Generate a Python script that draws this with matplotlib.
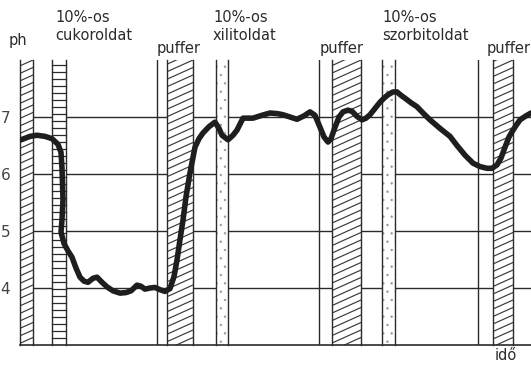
"""pH of the mouth over time while rinsing with 10% sugar / xylitol / sorbitol solutions."""

import numpy as np
import matplotlib
matplotlib.use('Agg')
import matplotlib.pyplot as plt
from matplotlib.patches import Rectangle

# time axis (arbitrary units, left edge of the chart = 20)
time = [21, 30, 37, 45, 52, 58, 61, 62, 63, 62, 61, 64, 68, 72, 76, 80, 84, 88,
        93, 97, 102, 107, 113, 120, 126, 131, 137, 141, 145, 150, 155, 160, 165,
        170, 174, 177, 180, 183, 186, 190, 195, 199, 203, 209, 215, 219, 222,
        228, 233, 237, 243, 248, 253, 262, 270, 277, 283, 290, 297, 304, 310,
        315, 320, 324, 328, 331, 335, 339, 343, 348, 352, 357, 362, 366, 370,
        375, 380, 384, 388, 393, 397, 401, 405, 411, 417, 423, 430, 440, 450,
        457, 465, 473, 480, 487, 492, 497, 501, 505, 509, 512, 516, 520, 526, 531]
ph = [6.60, 6.66, 6.68, 6.66, 6.62, 6.52, 6.38, 6.10, 5.55, 5.20, 4.98, 4.78,
      4.65, 4.54, 4.35, 4.19, 4.12, 4.10, 4.17, 4.19, 4.10, 4.02, 3.95, 3.91,
      3.92, 3.95, 4.05, 4.03, 3.98, 4.00, 4.01, 3.97, 3.94, 3.99, 4.20, 4.49,
      4.85, 5.19, 5.60, 6.02, 6.47, 6.62, 6.72, 6.83, 6.91, 6.80, 6.68, 6.60,
      6.68, 6.77, 6.98, 6.98, 6.98, 7.03, 7.07, 7.06, 7.04, 7.00, 6.96, 7.02,
      7.09, 7.03, 6.82, 6.65, 6.56, 6.62, 6.82, 7.00, 7.09, 7.12, 7.10, 7.01,
      6.95, 6.98, 7.04, 7.15, 7.26, 7.33, 7.39, 7.44, 7.44, 7.38, 7.33, 7.25,
      7.18, 7.07, 6.95, 6.80, 6.66, 6.50, 6.33, 6.19, 6.13, 6.10, 6.10, 6.16,
      6.28, 6.47, 6.65, 6.74, 6.85, 6.95, 7.02, 7.07]

# treatment periods (start, end) on the time axis
ph_period = (20, 33)
sugar_period = (52, 66)
buffer_periods = [(167, 193), (332, 361), (493, 513)]
buffer_marks = [157, 319, 478]
polyol_periods = [(216, 228), (382, 395)]

yticks = [4, 5, 6, 7]
top_labels = ['10%-os\ncukoroldat', '10%-os\nxilitoldat', '10%-os\nszorbitoldat']

INK = '#2b2b2b'
W, H = 531, 366

plt.rcParams['hatch.linewidth'] = 0.5

fig = plt.figure(figsize=(W / 100, H / 100), dpi=100)
ax = fig.add_axes([20 / W, 21 / H, 511 / W, 285 / H])
ax.set_xlim(20, 531)
ax.set_ylim(3, 8)

px_per_ph = 285 / 5


def column(x0, x1):
    rect = Rectangle((x0, 3), x1 - x0, 5, facecolor='white', edgecolor='none', zorder=2)
    ax.add_patch(rect)
    ax.plot([x0, x0], [3, 8], color=INK, lw=1.0, zorder=3, clip_on=False)
    ax.plot([x1, x1], [3, 8], color=INK, lw=1.0, zorder=3, clip_on=False)
    return rect


def hatched(x0, x1, slope=0.45, step=7.5):
    rect = column(x0, x1)
    w = x1 - x0
    rise = slope * w / px_per_ph
    for y0 in np.arange(3 - rise, 8, step / px_per_ph):
        ln, = ax.plot([x0, x1], [y0, y0 + rise], color='#3a3a3a', lw=0.85, zorder=2.5)
        ln.set_clip_path(rect)


# grid
for y in yticks:
    ax.axhline(y, color=INK, lw=1.0, zorder=1)

hatched(*ph_period)
for p in buffer_periods:
    hatched(*p)
for x in buffer_marks:
    ax.plot([x, x], [3, 8], color=INK, lw=1.0, zorder=3)

# sugar: ladder column
rect = column(*sugar_period)
for y in np.arange(3, 8, 7 / px_per_ph):
    ax.plot(sugar_period, [y, y], color=INK, lw=0.9, zorder=2.5)

# polyols: stippled columns
for x0, x1 in polyol_periods:
    column(x0, x1)
    ax.add_patch(Rectangle((x0, 3), x1 - x0, 5, facecolor='none', edgecolor='#9a9a9a',
                           lw=0, hatch='..', zorder=2.4))

ax.plot(time, ph, color='#1e1e1e', lw=4.0, solid_capstyle='round',
        solid_joinstyle='round', zorder=5)

for s in ['top', 'right', 'left']:
    ax.spines[s].set_visible(False)
ax.spines['bottom'].set_color(INK)
ax.spines['bottom'].set_linewidth(1.2)
ax.set_xticks([])
ax.set_yticks(yticks)
ax.set_yticklabels([str(v) for v in yticks], fontsize=11, color='#444')
ax.tick_params(axis='y', length=0, pad=7)

# labels above the columns
fig.text(18 / W, 1 - 40 / H, 'ph', fontsize=10.5, color=INK, ha='center', va='center')
for x, lab in zip([55, 213, 382], top_labels):
    fig.text(x / W, 1 - 27 / H, lab, fontsize=10.5, color=INK, ha='left',
             va='center', linespacing=1.25)
for x in [157, 320, 487]:
    fig.text(x / W, 1 - 48 / H, 'puffer', fontsize=10.5, color=INK, ha='left', va='center')
fig.text(506 / W, 1 - 355 / H, 'idő', fontsize=10.5, color=INK, ha='center', va='center')

fig.savefig('out.png', dpi=100)
